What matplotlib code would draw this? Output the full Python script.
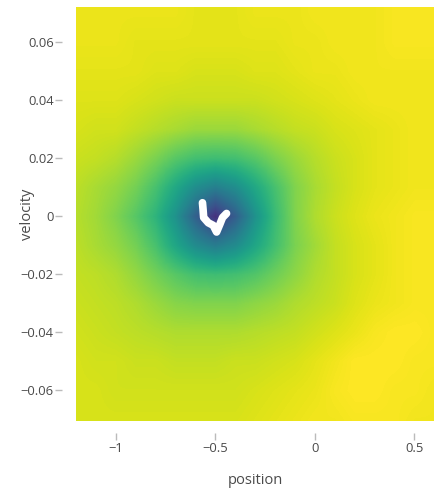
import numpy as np
import matplotlib.pyplot as plt

# grid of the value surface (0 = dark purple, 1 = yellow)
position = [-1.2, -1.1, -1.0, -0.9, -0.8, -0.7, -0.6, -0.5, -0.4, -0.3,
            -0.2, -0.1, 0.0, 0.1, 0.2, 0.3, 0.4, 0.5, 0.6]
velocity = [0.07, 0.06, 0.05, 0.04, 0.03, 0.02, 0.01, 0.0,
            -0.01, -0.02, -0.03, -0.04, -0.05, -0.06, -0.07]

v_p07 = [0.97, 0.97, 0.97, 0.97, 0.97, 0.97, 0.96, 0.96, 0.96, 0.97, 0.97, 0.97, 0.98, 0.98, 0.98, 0.98, 0.99, 0.99, 0.99]
v_p06 = [0.97, 0.97, 0.97, 0.96, 0.96, 0.96, 0.96, 0.96, 0.96, 0.96, 0.96, 0.97, 0.97, 0.98, 0.98, 0.98, 0.99, 0.99, 0.99]
v_p05 = [0.96, 0.96, 0.96, 0.96, 0.95, 0.95, 0.94, 0.94, 0.94, 0.95, 0.95, 0.96, 0.97, 0.97, 0.98, 0.98, 0.98, 0.98, 0.98]
v_p04 = [0.95, 0.95, 0.95, 0.94, 0.93, 0.92, 0.92, 0.92, 0.92, 0.92, 0.93, 0.94, 0.95, 0.96, 0.97, 0.98, 0.98, 0.98, 0.98]
v_p03 = [0.94, 0.93, 0.93, 0.91, 0.89, 0.87, 0.85, 0.85, 0.85, 0.87, 0.89, 0.91, 0.92, 0.94, 0.95, 0.96, 0.97, 0.98, 0.98]
v_p02 = [0.92, 0.91, 0.89, 0.85, 0.80, 0.74, 0.70, 0.69, 0.70, 0.74, 0.80, 0.85, 0.89, 0.92, 0.94, 0.96, 0.97, 0.98, 0.98]
v_p01 = [0.90, 0.87, 0.84, 0.79, 0.71, 0.60, 0.49, 0.43, 0.49, 0.60, 0.71, 0.81, 0.87, 0.91, 0.94, 0.96, 0.97, 0.98, 0.98]
v_000 = [0.89, 0.86, 0.81, 0.74, 0.65, 0.51, 0.31, 0.14, 0.30, 0.51, 0.68, 0.81, 0.88, 0.92, 0.95, 0.97, 0.98, 0.99, 0.99]
v_m01 = [0.90, 0.87, 0.84, 0.79, 0.71, 0.59, 0.48, 0.42, 0.48, 0.59, 0.70, 0.80, 0.86, 0.91, 0.94, 0.96, 0.98, 0.99, 0.99]
v_m02 = [0.91, 0.90, 0.88, 0.84, 0.79, 0.74, 0.70, 0.69, 0.70, 0.73, 0.78, 0.83, 0.88, 0.91, 0.94, 0.96, 0.98, 0.99, 0.99]
v_m03 = [0.92, 0.91, 0.90, 0.88, 0.85, 0.82, 0.81, 0.81, 0.81, 0.83, 0.85, 0.88, 0.90, 0.92, 0.95, 0.97, 0.98, 0.99, 0.99]
v_m04 = [0.93, 0.92, 0.91, 0.90, 0.89, 0.88, 0.88, 0.88, 0.88, 0.89, 0.90, 0.91, 0.93, 0.95, 0.97, 0.99, 1.00, 1.00, 0.99]
v_m05 = [0.94, 0.93, 0.93, 0.92, 0.92, 0.91, 0.91, 0.91, 0.92, 0.92, 0.93, 0.94, 0.96, 0.98, 1.00, 1.00, 1.00, 0.99, 0.99]
v_m06 = [0.94, 0.94, 0.93, 0.93, 0.93, 0.93, 0.93, 0.93, 0.93, 0.94, 0.95, 0.96, 0.97, 0.99, 1.00, 1.00, 0.99, 0.99, 0.98]
v_m07 = [0.94, 0.94, 0.94, 0.94, 0.94, 0.94, 0.94, 0.94, 0.94, 0.95, 0.96, 0.97, 0.98, 0.98, 0.99, 0.99, 0.99, 0.98, 0.98]

# trajectory
traj_pos = [-0.564, -0.561, -0.558, -0.535, -0.510, -0.493, -0.477, -0.463, -0.443]
traj_vel = [0.0047, 0.0024, -0.0004, -0.0022, -0.0031, -0.0054, -0.0028, -0.0004, 0.0010]

z = np.array([v_p07, v_p06, v_p05, v_p04, v_p03, v_p02, v_p01, v_000,
              v_m01, v_m02, v_m03, v_m04, v_m05, v_m06, v_m07])

fig = plt.figure(figsize=(4.34, 4.94), dpi=100)
ax = fig.add_axes([0.175, 0.148, 0.825, 0.838])

dx = (position[1] - position[0]) / 2
dy = (velocity[0] - velocity[1]) / 2
ax.imshow(z, cmap='viridis', vmin=0, vmax=1, aspect='auto', interpolation='bilinear',
          extent=(position[0] - dx, position[-1] + dx, velocity[-1] - dy, velocity[0] + dy))
ax.plot(traj_pos, traj_vel, color='white', linewidth=5.5, solid_capstyle='round', solid_joinstyle='round')

ax.set_xlim(-1.2, 0.6)
ax.set_ylim(-0.0705, 0.0722)
for s in ax.spines.values():
    s.set_visible(False)
ax.spines['left'].set_position(('outward', 10))
ax.spines['bottom'].set_position(('outward', 9))

ax.set_xticks([-1, -0.5, 0, 0.5])
ax.set_xticklabels(['\u22121', '\u22120.5', '0', '0.5'])
ax.set_yticks([-0.06, -0.04, -0.02, 0, 0.02, 0.04, 0.06])
ax.set_yticklabels(['\u22120.06', '\u22120.04', '\u22120.02', '0', '0.02', '0.04', '0.06'])
ax.tick_params(length=5, width=1, color='#bbbbbb', labelcolor='#4a4a4a', labelsize=9.4, pad=1)
for lab in ax.get_xticklabels() + ax.get_yticklabels():
    lab.set_family('Open Sans')

ax.set_xlabel('position', fontsize=10.5, color='#4a4a4a', family='Open Sans', labelpad=13)
ax.set_ylabel('velocity', fontsize=10.5, color='#4a4a4a', family='Open Sans')
ax.yaxis.set_label_coords(-0.115, 0.5)

fig.savefig('out.png', dpi=100)
